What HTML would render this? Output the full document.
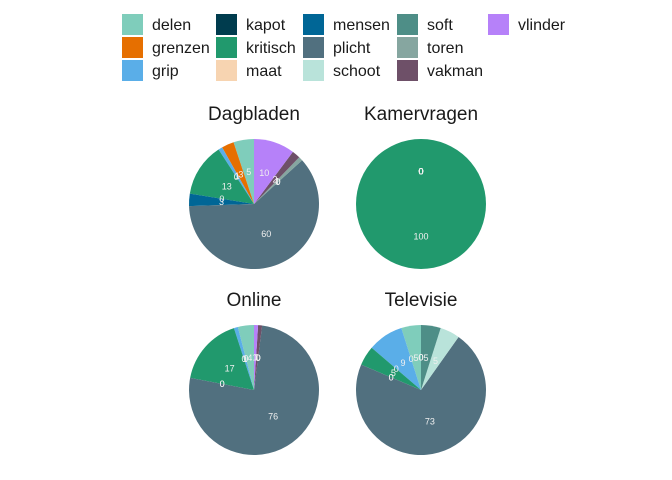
<!DOCTYPE html>
<html><head><meta charset="utf-8"><style>
body{margin:0;background:#fff;}
svg{display:block;font-family:"Liberation Sans",sans-serif;}
</style></head><body>
<svg id="c" width="672" height="480" viewBox="0 0 672 480">
<rect width="672" height="480" fill="#fff"/>
<g id="legend"></g>
<g id="pies"></g>
</svg>
<script>
const categories=["delen","grenzen","grip","kapot","kritisch","maat","mensen","plicht","schoot","soft","toren","vakman","vlinder"];
const colors=["#7fcdbb","#e66f00","#5aaee8","#003c4e","#21996d","#f7d4b1","#006696","#51707f","#b9e3da","#4e8e87","#86a6a0","#6e5068","#b681f9"];
const panels=["Dagbladen","Kamervragen","Online","Televisie"];
const dagbladen=[5,3,1,0,13,0,3,60,0,0,1,2,10];
const kamervragen=[0,0,0,0,100,0,0,0,0,0,0,0,0];
const online=[4,0,1,0,17,0,0,76,0,0,0,1,1];
const televisie=[5,0,9,0,5,0,0,73,5,5,0,0,0];
const series=[dagbladen,kamervragen,online,televisie];
const NS="http://www.w3.org/2000/svg";
const svg=document.getElementById('c');
function mk(t,a,p){const e=document.createElementNS(NS,t);for(const k in a)e.setAttribute(k,a[k]);p.appendChild(e);return e;}
// legend
const lg=document.getElementById('legend');
const colSw=[122,216,303,397,488];
const rowY=[14,37,60];
categories.forEach((c,i)=>{
  const col=Math.floor(i/3),row=i%3;
  const g=mk('g',{},lg);
  
  
  mk('rect',{x:colSw[col],y:rowY[row],width:21,height:21,fill:colors[i]},g);
  const t=mk('text',{x:colSw[col]+30,y:rowY[row]+16,'font-size':16,fill:'#1a1a1a'},g);
  t.textContent=c;
});
const centers=[[254,204],[421,204],[254,390],[421,390]];
const R=65;
const pg=document.getElementById('pies');
panels.forEach((p,pi)=>{
  const vals=series[pi];const tot=vals.reduce((a,b)=>a+b,0);
  const [cx,cy]=centers[pi];
  const g=mk('g',{},pg);
  
  
  const tt=mk('text',{x:cx,y:cy-84,'text-anchor':'middle','font-size':19,fill:'#1a1a1a'},g);
  
  
  tt.textContent=p;
  let acc=0;const labels=[];
  vals.forEach((v,i)=>{
    const a0=acc/tot*2*Math.PI;acc+=v;const a1=acc/tot*2*Math.PI;
    // counterclockwise from top
    const pt=a=>[cx-R*Math.sin(a),cy-R*Math.cos(a)];
    if(v>0){
      let el;
      if(v>=tot){el=mk('circle',{cx:cx,cy:cy,r:R,fill:colors[i]},g);}
      else{const [x0,y0]=pt(a0),[x1,y1]=pt(a1);const large=(a1-a0)>Math.PI?1:0;
        el=mk('path',{d:`M${cx},${cy}L${x0},${y0}A${R},${R} 0 ${large} 0 ${x1},${y1}Z`,fill:colors[i]},g);}
      
      
    }
    const am=(a0+a1)/2;
    labels.push([cx-R*0.5*Math.sin(am),cy-R*0.5*Math.cos(am),v]);
  });
  labels.forEach(([x,y,v])=>{
    const t=mk('text',{x:x,y:y+3,'text-anchor':'middle','font-size':9,fill:'#f0f0f0'},g);
    
    
    t.textContent=v;
  });
});
</script>
</body></html>
